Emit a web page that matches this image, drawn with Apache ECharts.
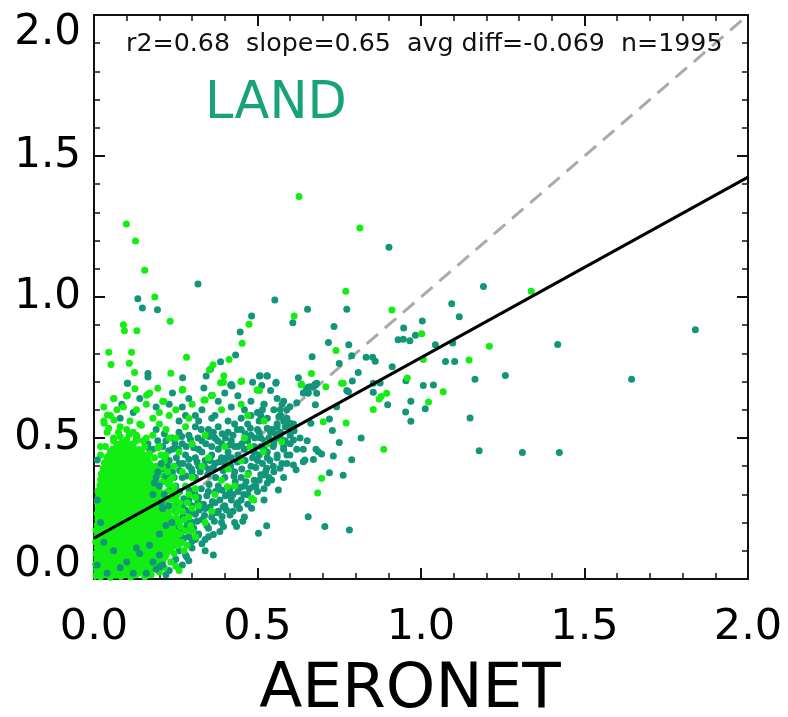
<!DOCTYPE html>
<html>
<head>
<meta charset="utf-8">
<script src="https://cdn.jsdelivr.net/npm/echarts@6/dist/echarts.min.js"></script>
<style>
html,body{margin:0;padding:0;background:#fff;}
#chart{width:788px;height:717px;}
</style>
</head>
<body>
<div id="chart"></div>
<script>
// ---- data ----
const xTicks = ['0.0','0.5','1.0','1.5','2.0'];
const yTicks = ['0.0','0.5','1.0','1.5','2.0'];
const statsText = 'r2=0.68  slope=0.65  avg diff=-0.069  n=1995';
const panelLabel = 'LAND';
const xAxisTitle = 'AERONET';
const oneToOne = [[0,0],[2,2]];
const fitLine = [[0,0.145],[2,1.425]];

const greenPoints = [
// dense core
[0.006,0.012],[0.02,0.008],[0.035,0.015],[0.05,0.006],[0.066,0.013],[0.082,0.009],[0.097,0.016],[0.112,0.007],[0.128,0.014],
[0.008,0.032],[0.024,0.028],[0.04,0.035],[0.056,0.027],[0.071,0.034],[0.087,0.029],[0.103,0.036],[0.118,0.026],[0.134,0.033],[0.15,0.03],[0.165,0.036],
[0.005,0.052],[0.019,0.047],[0.034,0.055],[0.05,0.048],[0.065,0.054],[0.081,0.046],[0.096,0.053],[0.112,0.049],[0.127,0.056],[0.143,0.047],[0.158,0.054],[0.174,0.05],[0.188,0.045],
[0.009,0.072],[0.025,0.067],[0.041,0.074],[0.057,0.069],[0.072,0.075],[0.088,0.066],[0.104,0.073],[0.12,0.068],[0.135,0.076],[0.151,0.067],[0.167,0.073],[0.182,0.069],[0.198,0.074],[0.21,0.066],
[0.006,0.09],[0.021,0.094],[0.037,0.087],[0.053,0.095],[0.068,0.088],[0.084,0.093],[0.1,0.086],[0.115,0.094],[0.131,0.089],[0.147,0.096],[0.162,0.087],[0.178,0.093],[0.194,0.088],[0.209,0.095],[0.222,0.09],
[0.01,0.113],[0.026,0.107],[0.042,0.114],[0.058,0.108],[0.073,0.115],[0.089,0.106],[0.105,0.113],[0.121,0.109],[0.136,0.116],[0.152,0.107],[0.168,0.114],[0.183,0.108],[0.199,0.115],[0.214,0.11],[0.228,0.106],
[0.005,0.132],[0.02,0.127],[0.036,0.134],[0.052,0.128],[0.067,0.135],[0.083,0.127],[0.099,0.133],[0.114,0.128],[0.13,0.136],[0.146,0.126],[0.161,0.133],[0.177,0.129],[0.193,0.135],[0.208,0.127],[0.224,0.133],[0.238,0.129],
[0.009,0.152],[0.025,0.147],[0.04,0.154],[0.056,0.148],[0.072,0.155],[0.087,0.146],[0.103,0.153],[0.119,0.149],[0.134,0.156],[0.15,0.147],[0.166,0.153],[0.181,0.148],[0.197,0.155],[0.213,0.146],[0.228,0.152],[0.242,0.148],
[0.006,0.172],[0.021,0.167],[0.037,0.174],[0.053,0.168],[0.068,0.175],[0.084,0.166],[0.1,0.173],[0.115,0.169],[0.131,0.176],[0.147,0.167],[0.162,0.173],[0.178,0.168],[0.194,0.175],[0.209,0.167],[0.225,0.172],[0.245,0.168],
[0.01,0.192],[0.026,0.187],[0.041,0.194],[0.057,0.188],[0.073,0.195],[0.088,0.186],[0.104,0.193],[0.12,0.189],[0.135,0.196],[0.151,0.187],[0.167,0.193],[0.182,0.188],[0.198,0.195],[0.214,0.187],[0.232,0.192],
[0.012,0.212],[0.028,0.207],[0.043,0.214],[0.059,0.208],[0.075,0.215],[0.09,0.206],[0.106,0.213],[0.122,0.209],[0.137,0.216],[0.153,0.207],[0.169,0.213],[0.184,0.208],[0.2,0.215],[0.218,0.207],[0.236,0.212],
[0.01,0.232],[0.025,0.227],[0.041,0.234],[0.056,0.228],[0.072,0.235],[0.088,0.226],[0.103,0.233],[0.119,0.229],[0.135,0.236],[0.15,0.227],[0.166,0.233],[0.182,0.228],[0.199,0.235],[0.224,0.229],
[0.013,0.252],[0.029,0.247],[0.044,0.254],[0.06,0.248],[0.076,0.255],[0.091,0.246],[0.107,0.253],[0.123,0.249],[0.138,0.256],[0.154,0.247],[0.17,0.253],[0.186,0.248],[0.205,0.255],[0.219,0.25],
[0.011,0.272],[0.026,0.267],[0.042,0.274],[0.058,0.268],[0.073,0.275],[0.089,0.266],[0.105,0.273],[0.12,0.269],[0.136,0.276],[0.152,0.267],[0.167,0.273],[0.183,0.268],[0.2,0.275],[0.217,0.27],
[0.014,0.292],[0.03,0.287],[0.045,0.294],[0.061,0.288],[0.077,0.295],[0.092,0.286],[0.108,0.293],[0.124,0.289],[0.139,0.296],[0.155,0.287],[0.171,0.293],[0.187,0.288],[0.206,0.294],
[0.012,0.312],[0.027,0.307],[0.043,0.314],[0.059,0.308],[0.074,0.315],[0.09,0.306],[0.106,0.313],[0.121,0.309],[0.137,0.316],[0.153,0.307],[0.168,0.313],[0.184,0.308],[0.199,0.314],
[0.018,0.332],[0.034,0.327],[0.049,0.334],[0.065,0.328],[0.081,0.335],[0.096,0.326],[0.112,0.333],[0.128,0.329],[0.143,0.336],[0.159,0.327],[0.175,0.333],[0.192,0.328],
[0.02,0.352],[0.036,0.347],[0.051,0.354],[0.067,0.348],[0.083,0.355],[0.098,0.346],[0.114,0.353],[0.13,0.349],[0.145,0.356],[0.161,0.347],[0.177,0.353],[0.19,0.348],
[0.022,0.372],[0.038,0.367],[0.053,0.374],[0.069,0.368],[0.085,0.375],[0.1,0.366],[0.116,0.373],[0.132,0.369],[0.147,0.376],[0.163,0.367],[0.178,0.373],
[0.028,0.392],[0.044,0.387],[0.059,0.394],[0.075,0.388],[0.091,0.395],[0.106,0.386],[0.122,0.393],[0.138,0.389],[0.153,0.396],[0.168,0.388],
[0.032,0.412],[0.048,0.407],[0.063,0.414],[0.079,0.408],[0.095,0.415],[0.11,0.406],[0.126,0.413],[0.142,0.409],[0.157,0.416],[0.17,0.41],
[0.04,0.432],[0.056,0.427],[0.071,0.434],[0.087,0.428],[0.103,0.435],[0.118,0.426],[0.134,0.433],[0.15,0.429],[0.162,0.435],
[0.05,0.452],[0.066,0.447],[0.082,0.454],[0.097,0.448],[0.113,0.455],[0.129,0.446],[0.145,0.453],
// dense core, in-between rows
[0.013,0.021],[0.029,0.018],[0.044,0.024],[0.06,0.017],[0.076,0.022],[0.091,0.019],[0.107,0.025],[0.122,0.018],[0.139,0.023],[0.157,0.019],
[0.012,0.041],[0.028,0.038],[0.047,0.043],[0.062,0.037],[0.078,0.044],[0.094,0.039],[0.109,0.042],[0.126,0.038],[0.142,0.044],[0.159,0.04],[0.176,0.037],
[0.013,0.061],[0.03,0.058],[0.045,0.063],[0.061,0.057],[0.077,0.064],[0.092,0.059],[0.108,0.062],[0.124,0.058],[0.14,0.064],[0.155,0.059],[0.171,0.062],[0.19,0.058],[0.203,0.063],
[0.015,0.081],[0.031,0.078],[0.047,0.084],[0.062,0.077],[0.079,0.083],[0.095,0.079],[0.11,0.082],[0.126,0.078],[0.142,0.084],[0.158,0.079],[0.173,0.082],[0.19,0.078],[0.204,0.083],[0.218,0.079],
[0.014,0.101],[0.03,0.098],[0.046,0.104],[0.061,0.097],[0.078,0.103],[0.093,0.099],[0.109,0.102],[0.125,0.098],[0.14,0.104],[0.156,0.099],[0.172,0.102],[0.188,0.098],[0.203,0.104],[0.219,0.099],[0.236,0.101],
[0.016,0.121],[0.032,0.118],[0.048,0.124],[0.063,0.117],[0.079,0.123],[0.095,0.119],[0.111,0.122],[0.126,0.118],[0.142,0.124],[0.158,0.119],[0.174,0.122],[0.19,0.118],[0.205,0.124],[0.22,0.119],[0.235,0.122],[0.25,0.118],
[0.014,0.141],[0.029,0.138],[0.045,0.144],[0.061,0.137],[0.077,0.143],[0.093,0.139],[0.108,0.142],[0.124,0.138],[0.14,0.144],[0.156,0.139],[0.171,0.142],[0.187,0.138],[0.203,0.144],[0.218,0.139],[0.234,0.142],[0.252,0.138],
[0.015,0.161],[0.031,0.158],[0.047,0.164],[0.062,0.157],[0.078,0.163],[0.094,0.159],[0.11,0.162],[0.125,0.158],[0.141,0.164],[0.157,0.159],[0.173,0.162],[0.188,0.158],[0.204,0.164],[0.22,0.159],[0.236,0.162],[0.253,0.158],
[0.016,0.181],[0.032,0.178],[0.048,0.184],[0.063,0.177],[0.079,0.183],[0.095,0.179],[0.111,0.182],[0.126,0.178],[0.142,0.184],[0.158,0.179],[0.174,0.182],[0.19,0.178],[0.205,0.184],[0.222,0.179],[0.24,0.182],
[0.018,0.201],[0.034,0.198],[0.05,0.204],[0.065,0.197],[0.081,0.203],[0.097,0.199],[0.113,0.202],[0.128,0.198],[0.144,0.204],[0.16,0.199],[0.176,0.202],[0.192,0.198],[0.208,0.204],[0.226,0.199],[0.243,0.202],
[0.017,0.221],[0.033,0.218],[0.049,0.224],[0.064,0.217],[0.08,0.223],[0.096,0.219],[0.112,0.222],[0.127,0.218],[0.143,0.224],[0.159,0.219],[0.175,0.222],[0.191,0.218],[0.21,0.224],[0.23,0.22],
[0.019,0.241],[0.035,0.238],[0.051,0.244],[0.066,0.237],[0.082,0.243],[0.098,0.239],[0.114,0.242],[0.129,0.238],[0.145,0.244],[0.161,0.239],[0.177,0.242],[0.194,0.238],[0.212,0.244],[0.228,0.24],
[0.018,0.261],[0.034,0.258],[0.05,0.264],[0.065,0.257],[0.081,0.263],[0.097,0.259],[0.113,0.262],[0.128,0.258],[0.144,0.264],[0.16,0.259],[0.176,0.262],[0.193,0.258],[0.21,0.264],[0.226,0.26],
[0.02,0.281],[0.036,0.278],[0.052,0.284],[0.067,0.277],[0.083,0.283],[0.099,0.279],[0.115,0.282],[0.13,0.278],[0.146,0.284],[0.162,0.279],[0.178,0.282],[0.195,0.278],[0.212,0.283],
[0.019,0.301],[0.035,0.298],[0.051,0.304],[0.066,0.297],[0.082,0.303],[0.098,0.299],[0.114,0.302],[0.129,0.298],[0.145,0.304],[0.161,0.299],[0.177,0.302],[0.193,0.298],[0.21,0.303],
[0.022,0.321],[0.038,0.318],[0.054,0.324],[0.069,0.317],[0.085,0.323],[0.101,0.319],[0.117,0.322],[0.132,0.318],[0.148,0.324],[0.164,0.319],[0.18,0.322],[0.198,0.318],
[0.025,0.341],[0.041,0.338],[0.057,0.344],[0.072,0.337],[0.088,0.343],[0.104,0.339],[0.12,0.342],[0.135,0.338],[0.151,0.344],[0.167,0.339],[0.183,0.342],[0.198,0.338],
[0.027,0.361],[0.043,0.358],[0.059,0.364],[0.074,0.357],[0.09,0.363],[0.106,0.359],[0.122,0.362],[0.137,0.358],[0.153,0.364],[0.169,0.359],[0.185,0.362],
[0.03,0.381],[0.046,0.378],[0.062,0.384],[0.077,0.377],[0.093,0.383],[0.109,0.379],[0.125,0.382],[0.14,0.378],[0.156,0.384],[0.172,0.379],[0.186,0.383],
[0.036,0.401],[0.052,0.398],[0.068,0.404],[0.083,0.397],[0.099,0.403],[0.115,0.399],[0.131,0.402],[0.146,0.398],[0.162,0.404],[0.176,0.399],
[0.04,0.421],[0.056,0.418],[0.072,0.424],[0.087,0.417],[0.103,0.423],[0.119,0.419],[0.135,0.422],[0.15,0.418],[0.165,0.423],
[0.047,0.441],[0.063,0.438],[0.079,0.444],[0.094,0.437],[0.11,0.443],[0.126,0.439],[0.142,0.442],[0.156,0.438],
[0.058,0.461],[0.074,0.458],[0.09,0.464],[0.105,0.457],[0.121,0.463],[0.137,0.459],
[0.07,0.478],[0.085,0.484],[0.1,0.495],[0.115,0.478],[0.13,0.49],[0.08,0.505],[0.108,0.512],
// right edge of the core, mixed with teal
[0.215,0.42],[0.225,0.38],[0.232,0.35],[0.245,0.33],[0.255,0.3],[0.262,0.27],[0.27,0.24],[0.275,0.21],[0.28,0.17],[0.268,0.13],[0.205,0.44],[0.195,0.465],[0.21,0.395],[0.24,0.36],[0.25,0.28],[0.265,0.185],[0.252,0.215],[0.258,0.25],[0.242,0.31],[0.228,0.335],[0.31,0.32],[0.29,0.3],[0.3,0.25],[0.285,0.27],[0.295,0.19],[0.31,0.15],[0.275,0.1],[0.25,0.045],[0.26,0.03],
// fringe
[0.02,0.44],[0.035,0.47],[0.06,0.49],[0.09,0.47],[0.12,0.48],[0.155,0.47],[0.17,0.445],[0.185,0.43],[0.19,0.40],[0.2,0.37],[0.21,0.345],[0.225,0.31],[0.235,0.285],[0.24,0.26],[0.25,0.235],[0.26,0.2],[0.262,0.16],[0.258,0.12],[0.245,0.09],[0.235,0.06],[0.215,0.04],[0.2,0.025],[0.175,0.015],[0.155,0.008],
[0.075,0.52],[0.1,0.53],[0.13,0.51],[0.045,0.535],[0.145,0.545],[0.16,0.5],[0.22,0.44],[0.245,0.4],[0.27,0.38],[0.28,0.33],[0.3,0.36],[0.31,0.29],[0.33,0.4],[0.35,0.43],[0.32,0.26],[0.29,0.22],[0.285,0.12],[0.3,0.17],[0.34,0.2],[0.37,0.3],[0.39,0.35],[0.41,0.39],[0.43,0.33],[0.45,0.42],[0.47,0.37],[0.36,0.24],[0.26,0.45],[0.23,0.5],[0.2,0.55],[0.18,0.57],[0.11,0.56],[0.07,0.6],[0.03,0.61],[0.23,0.58],[0.29,0.57],
[0.408,0.327],[0.489,0.28],[0.482,0.286],[0.518,0.451],[0.477,0.469],[0.574,0.487],
[0.03,0.56],[0.05,0.58],[0.06,0.64],[0.09,0.61],[0.10,0.65],[0.13,0.60],[0.16,0.62],[0.17,0.66],[0.20,0.59],[0.21,0.63],[0.25,0.60],[0.27,0.67],[0.30,0.62],[0.34,0.635],[0.36,0.65],[0.39,0.60],[0.45,0.62],[0.50,0.67],[0.47,0.58],[0.52,0.56],
[0.02,0.47],[0.04,0.52],[0.06,0.50],[0.08,0.54],[0.10,0.48],[0.12,0.52],[0.14,0.55],[0.15,0.49],[0.18,0.51],[0.20,0.47],[0.22,0.53],[0.25,0.50],[0.28,0.54],[0.30,0.48],[0.34,0.51],[0.40,0.47],[0.46,0.50],[0.53,0.48],
[0.102,0.652],[0.061,0.640],[0.168,0.658],[0.270,0.670],[0.387,0.696],[0.449,0.700],[0.499,0.670],[0.214,0.629],[0.336,0.635],[0.362,0.652],[0.041,0.582],[0.031,0.552],[0.061,0.564],
// outliers
[0.099,1.259],[0.127,1.199],[0.155,1.095],[0.186,1.000],[0.233,0.914],[0.090,0.902],[0.093,0.880],[0.131,0.880],[0.045,0.804],[0.115,0.804],[0.052,0.761],[0.108,0.765],[0.283,0.786],[0.124,0.732],[0.235,0.730],[0.364,0.760],[0.413,0.778],[0.453,0.836],[0.474,0.903],[0.397,0.721],[0.612,0.933],[0.627,1.356],[0.813,1.245],[0.770,1.020],[0.911,0.954],[0.740,0.810],[0.665,0.729],[1.002,0.870],[1.007,0.778],[1.147,0.777],[1.209,0.825],[0.958,0.713],[1.337,1.020],[1.068,0.664],[1.023,0.628],[0.878,0.647],[0.895,0.659],[0.886,0.460],[0.872,0.638],[0.854,0.601],[0.696,0.357],[0.684,0.305],[0.771,0.553],[0.701,0.558],[0.757,0.694],[0.709,0.682],[0.635,0.691],[0.271,0.673],[0.195,0.676],[0.125,0.675],[0.100,0.649],[0.161,0.652],[0.353,0.741],[0.396,0.698],[0.452,0.702],[0.506,0.668],[0.633,0.689],[0.762,0.694]
];

// teal points drawn beneath the green ones
const tealPoints = [
[0.23,0.03],[0.25,0.07],[0.27,0.05],[0.28,0.085],[0.29,0.065],[0.26,0.1],[0.3,0.11],[0.245,0.12],[0.31,0.14],[0.33,0.125],[0.32,0.16],[0.35,0.15],[0.365,0.158],[0.385,0.168],[0.396,0.186],[0.436,0.186],[0.34,0.1],[0.27,0.13],[0.29,0.15],[0.22,0.015],[0.503,0.162],[0.528,0.189],[0.319,0.156],[0.365,0.085],[0.283,0.079],[0.243,0.061],[0.294,0.121],
[0.24,0.17],[0.26,0.21],[0.28,0.18],[0.3,0.2],[0.31,0.23],[0.33,0.21],[0.34,0.25],[0.36,0.22],[0.37,0.27],[0.38,0.24],[0.4,0.26],[0.41,0.3],[0.416,0.227],[0.436,0.262],[0.42,0.28],[0.44,0.31],[0.45,0.28],[0.46,0.33],[0.47,0.3],[0.482,0.251],[0.487,0.327],[0.49,0.35],[0.5,0.31],[0.51,0.37],[0.518,0.369],[0.528,0.393],[0.543,0.351],[0.564,0.316],[0.569,0.393],[0.55,0.38],[0.53,0.34],[0.58,0.36],[0.59,0.41],[0.52,0.28],[0.46,0.22],[0.43,0.2],[0.39,0.2],[0.35,0.18],[0.25,0.24],[0.27,0.26],[0.29,0.28],[0.23,0.22],[0.32,0.29],[0.35,0.31],[0.38,0.33],[0.4,0.36],[0.43,0.38],[0.45,0.36],[0.48,0.4],[0.5,0.42],[0.53,0.43],[0.56,0.44],[0.58,0.46],
[0.225,0.155],[0.252,0.185],[0.265,0.165],[0.272,0.225],[0.285,0.2],[0.295,0.235],[0.305,0.18],[0.315,0.205],[0.322,0.245],[0.338,0.225],[0.345,0.19],[0.355,0.255],[0.368,0.205],[0.375,0.235],[0.392,0.222],[0.405,0.245],[0.425,0.24],[0.445,0.25],[0.455,0.205],[0.47,0.265],[0.34,0.14],[0.3,0.135],[0.275,0.145],[0.258,0.14],[0.232,0.135],
[0.235,0.32],[0.248,0.29],[0.255,0.265],[0.262,0.31],[0.275,0.285],[0.28,0.245],[0.292,0.315],[0.3,0.26],[0.308,0.305],[0.318,0.275],[0.328,0.32],[0.335,0.265],[0.345,0.295],[0.352,0.335],[0.362,0.275],[0.372,0.31],[0.385,0.28],[0.392,0.315],[0.402,0.295],[0.415,0.32],[0.425,0.3],[0.432,0.345],[0.448,0.325],[0.458,0.3],[0.465,0.345],[0.475,0.32],[0.495,0.33],[0.505,0.35],[0.52,0.32],[0.535,0.36],[0.395,0.255],[0.44,0.27],
[0.215,0.365],[0.225,0.4],[0.232,0.37],[0.245,0.36],[0.252,0.43],[0.262,0.385],[0.272,0.41],[0.282,0.365],[0.29,0.425],[0.298,0.39],[0.31,0.36],[0.315,0.415],[0.325,0.38],[0.338,0.4],[0.348,0.37],[0.355,0.42],[0.365,0.395],[0.372,0.36],[0.382,0.415],[0.395,0.385],[0.405,0.43],[0.418,0.4],[0.428,0.365],[0.438,0.415],[0.452,0.39],[0.462,0.42],[0.472,0.375],[0.485,0.43],[0.495,0.395],[0.505,0.44],[0.515,0.41],[0.525,0.38],[0.538,0.42],[0.548,0.4],[0.56,0.43],[0.575,0.41],[0.59,0.44],
[0.21,0.39],[0.22,0.35],[0.23,0.42],[0.24,0.38],[0.25,0.33],[0.26,0.41],[0.27,0.36],[0.28,0.44],[0.29,0.4],[0.3,0.38],[0.31,0.43],[0.32,0.4],[0.33,0.45],[0.34,0.42],[0.35,0.39],[0.36,0.44],[0.37,0.41],[0.38,0.46],[0.39,0.43],[0.4,0.41],[0.41,0.45],[0.42,0.43],[0.43,0.47],[0.44,0.44],[0.46,0.46],[0.47,0.49],[0.49,0.45],[0.51,0.47],[0.53,0.45],[0.55,0.49],[0.57,0.52],[0.6,0.48],[0.62,0.46],[0.61,0.55],[0.63,0.5],[0.58,0.56],[0.59,0.6],
[0.11,0.46],[0.13,0.50],[0.17,0.46],[0.19,0.53],[0.22,0.49],[0.24,0.46],[0.26,0.52],[0.27,0.48],[0.29,0.51],[0.31,0.54],[0.32,0.46],[0.33,0.49],[0.35,0.53],[0.36,0.47],[0.37,0.50],[0.38,0.54],[0.39,0.48],[0.41,0.52],[0.42,0.49],[0.43,0.55],[0.44,0.47],[0.45,0.53],[0.47,0.55],[0.48,0.51],[0.49,0.47],[0.50,0.53],[0.51,0.50],[0.52,0.46],[0.54,0.52],[0.55,0.48],[0.56,0.54],[0.57,0.50],[0.58,0.47],[0.59,0.55],[0.60,0.51],
[0.165,0.48],[0.18,0.46],[0.195,0.49],[0.21,0.47],[0.215,0.515],[0.228,0.455],[0.238,0.5],[0.248,0.48],[0.258,0.46],[0.268,0.505],[0.282,0.47],[0.295,0.495],[0.305,0.465],[0.318,0.5],[0.328,0.53],[0.342,0.48],[0.352,0.505],[0.365,0.52],[0.378,0.49],[0.392,0.515],[0.402,0.5],[0.415,0.475],[0.425,0.51],[0.438,0.53],[0.452,0.48],[0.462,0.515],[0.478,0.535],[0.492,0.5],[0.505,0.52],[0.522,0.49],[0.535,0.5],[0.548,0.47],[0.565,0.5],[0.585,0.49],[0.6,0.53],[0.45,0.57],[0.41,0.56],[0.36,0.57],[0.32,0.56],[0.28,0.58],[0.48,0.58],
[0.08,0.57],[0.12,0.59],[0.14,0.64],[0.19,0.61],[0.23,0.62],[0.24,0.66],[0.27,0.61],[0.29,0.64],[0.31,0.58],[0.33,0.60],[0.38,0.63],[0.40,0.66],[0.42,0.61],[0.44,0.65],[0.46,0.60],[0.48,0.63],[0.50,0.59],[0.52,0.62],[0.53,0.57],[0.55,0.60],[0.57,0.58],[0.56,0.64],[0.58,0.63],[0.42,0.69],[0.37,0.58],[0.26,0.56],
[0.505,0.56],[0.51,0.58],[0.515,0.6],[0.52,0.62],[0.53,0.535],[0.545,0.53],[0.56,0.55],[0.565,0.575],[0.57,0.6],[0.575,0.62],[0.555,0.515],[0.585,0.54],[0.59,0.57],
[0.64,0.66],[0.655,0.68],[0.648,0.665],[0.661,0.682],[0.676,0.688],[0.655,0.659],[0.681,0.659],
[0.102,0.694],[0.418,0.688],[0.556,0.694],[0.085,0.62],
// outliers
[0.318,1.046],[0.134,0.994],[0.148,0.961],[0.194,0.955],[0.165,0.729],[0.165,0.716],[0.271,0.714],[0.343,0.720],[0.356,0.744],[0.387,0.770],[0.433,0.794],[0.447,0.876],[0.482,0.933],[0.553,0.989],[0.508,0.721],[0.529,0.721],[0.608,0.909],[0.902,1.176],[0.653,0.957],[0.773,0.957],[0.734,0.895],[0.947,0.890],[1.004,0.915],[1.191,1.037],[1.094,0.976],[1.117,0.930],[0.717,0.839],[0.779,0.831],[0.667,0.788],[0.788,0.792],[0.750,0.764],[0.832,0.786],[0.852,0.786],[0.860,0.772],[0.808,0.732],[0.912,0.753],[0.930,0.848],[0.946,0.850],[0.966,0.845],[0.983,0.864],[1.044,0.831],[1.097,0.837],[1.075,0.771],[1.103,0.771],[1.258,0.722],[1.165,0.708],[1.839,0.884],[1.418,0.832],[1.644,0.708],[0.875,0.695],[0.954,0.703],[1.007,0.686],[1.038,0.688],[0.898,0.618],[0.969,0.630],[1.013,0.604],[0.953,0.592],[0.969,0.559],[1.150,0.571],[1.178,0.455],[1.310,0.449],[1.423,0.449],[0.854,0.662],[0.817,0.500],[0.788,0.423],[0.762,0.368],[0.720,0.377],[0.655,0.221],[0.706,0.186],[0.781,0.174],[0.750,0.484],[0.732,0.436],[0.729,0.527],[0.720,0.567],[0.686,0.451],[0.696,0.443],[0.679,0.460],[0.671,0.424],[0.645,0.422],[0.640,0.416],[0.640,0.460],[0.652,0.490],[0.610,0.493],[0.612,0.526],[0.618,0.387],[0.610,0.404],[0.599,0.440],[0.677,0.618],[0.620,0.625],[0.663,0.552],[0.742,0.611],[0.778,0.664],[0.676,0.691],[0.655,0.664],[0.599,0.611],[0.599,0.552],
[0.103,0.694],[0.336,0.677],[0.485,0.698],[0.506,0.720],[0.530,0.720],[0.557,0.698],[0.422,0.684],[0.540,0.668],[0.790,0.702],[0.773,0.668],[0.854,0.694],[0.625,0.714],[0.650,0.673],[0.681,0.694],[0.671,0.682],[0.513,0.686],[0.360,0.652]
];

// teal points visible on top of the green core
const tealTopPoints = [
[0.12,0.02],[0.08,0.04],[0.1,0.06],[0.14,0.09],[0.04,0.02],[0.06,0.1],[0.01,0.05],[0.03,0.13],[0.02,0.2],[0.01,0.28],[0.01,0.422],[0.13,0.11],[0.17,0.12],[0.16,0.02],[0.19,0.035],[0.18,0.06],[0.2,0.085],[0.21,0.05],[0.202,0.044],
[0.2,0.33],[0.215,0.3],[0.22,0.19],[0.228,0.26],[0.185,0.34],[0.205,0.41],[0.21,0.25],[0.2,0.16],[0.19,0.36],[0.18,0.3],[0.205,0.27],[0.238,0.2],[0.195,0.38]
];

// ---- chart ----
const FONT = 'DejaVu Sans';
const chart = echarts.init(document.getElementById('chart'), null, {renderer:'canvas'});

function baseAxis(extra){
  return Object.assign({
    type:'value', min:0, max:2, interval:0.5,
    axisLine:{show:true, onZero:false, lineStyle:{color:'#111', width:2}},
    axisTick:{show:true, inside:true, length:11, lineStyle:{color:'#111', width:2}},
    minorTick:{show:true, splitNumber:5, length:6, lineStyle:{color:'#111', width:1.5}},
    splitLine:{show:false},
    minorSplitLine:{show:false}
  }, extra);
}

const option = {
  animation:false,
  backgroundColor:'#fff',
  grid:{left:94, right:40, top:15, bottom:138, containLabel:false, outerBoundsMode:'none'},
  xAxis:[
    baseAxis({
      position:'bottom',
      name:xAxisTitle, nameLocation:'middle', nameGap:80,
      nameTextStyle:{fontFamily:FONT, fontSize:63, color:'#000', lineHeight:63, padding:[0,22,0,0]},
      axisLabel:{show:true, margin:27, fontFamily:FONT, fontSize:43, lineHeight:43, color:'#000',
        formatter:function(v){ return xTicks[Math.round(v/0.5)]; }}
    }),
    baseAxis({position:'top', axisLabel:{show:false}})
  ],
  yAxis:[
    baseAxis({
      position:'left',
      axisLabel:{show:true, margin:13, fontFamily:FONT, fontSize:42, lineHeight:33, color:'#000',
        verticalAlignMinLabel:'bottom', verticalAlignMaxLabel:'top',
        formatter:function(v){
          const i = Math.round(v/0.5);
          if (i === yTicks.length - 1) return '{mx|' + yTicks[i] + '}';
          if (i === 0) return '{mn|' + yTicks[i] + '}';
          return yTicks[i];
        },
        rich:{
          mx:{fontFamily:FONT, fontSize:42, lineHeight:33, color:'#000', padding:[4,0,0,0]},
          mn:{fontFamily:FONT, fontSize:42, lineHeight:27, color:'#000'}
        }}
    }),
    baseAxis({position:'right', axisLabel:{show:false}})
  ],
  graphic:[
    {type:'text', z:100, style:{x:126, y:44, text:statsText, fontFamily:FONT, fontSize:25.3, fill:'#111', align:'left', verticalAlign:'middle'}},
    {type:'text', z:100, style:{x:205, y:105, text:panelLabel, fontFamily:FONT, fontSize:51, fill:'#17a27a', align:'left', verticalAlign:'middle'}}
  ],
  series:[
    {type:'line', data:oneToOne, symbol:'none', z:1, silent:true,
      lineStyle:{color:'#aaaaaa', width:3, type:[15,9]}},
    {type:'scatter', data:tealPoints, symbol:'circle', symbolSize:7, z:2,
      itemStyle:{color:'#12967a', opacity:1}},
    {type:'scatter', data:greenPoints, symbol:'circle', symbolSize:7, z:3,
      itemStyle:{color:'#12ee12', opacity:1}},
    {type:'scatter', data:tealTopPoints, symbol:'circle', symbolSize:7, z:4,
      itemStyle:{color:'#12967a', opacity:1}},
    {type:'line', data:fitLine, symbol:'none', z:5, silent:true,
      lineStyle:{color:'#000', width:3}}
  ]
};
chart.setOption(option);
</script>
</body>
</html>
